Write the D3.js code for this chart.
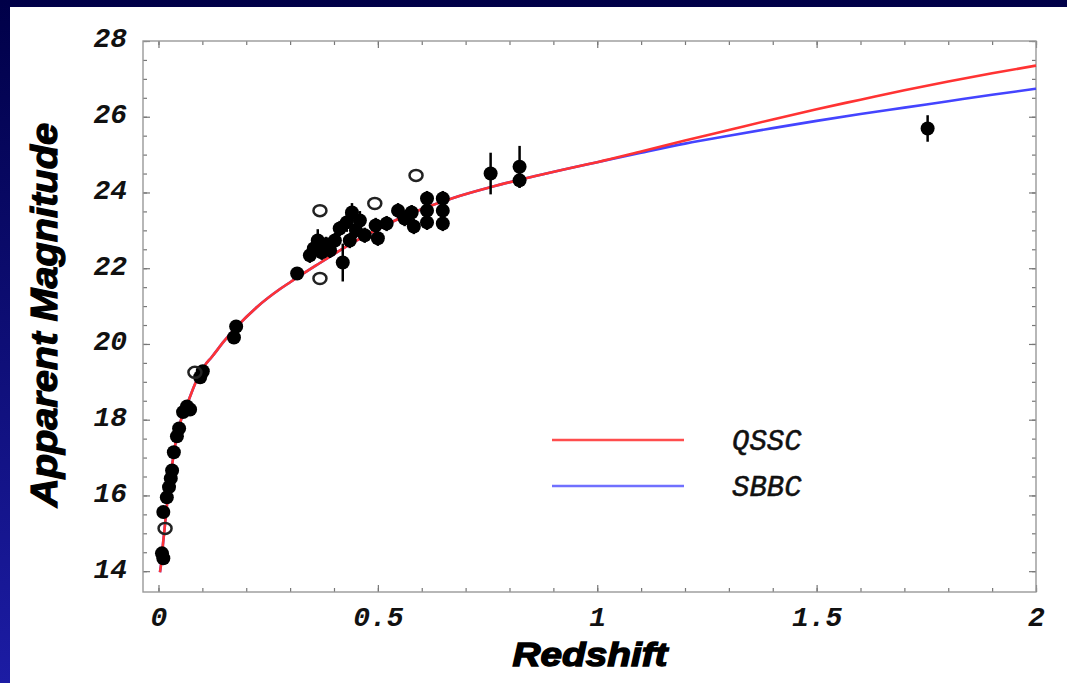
<!DOCTYPE html>
<html>
<head>
<meta charset="utf-8">
<title>Apparent Magnitude vs Redshift</title>
<script src="https://d3js.org/d3.v7.min.js"></script>
<style>
  html, body { margin: 0; padding: 0; }
  body { width: 1067px; height: 683px; overflow: hidden; }
  .tick text { font-family: "Liberation Mono", monospace; font-style: italic; font-weight: bold; font-size: 28px; fill: #111; }
  .tick line { stroke: #777; stroke-width: 1.2; }
  .domain { display: none; }
</style>
</head>
<body>
<div id="chart"></div>
<script>
// model curves
var zCurve = [0.0034, 0.007, 0.010, 0.014, 0.018, 0.024, 0.031, 0.040, 0.051, 0.067, 0.085, 0.106, 0.121,
              0.150, 0.178, 0.224, 0.277, 0.300, 0.360, 0.450, 0.550, 0.670, 0.760, 0.854, 0.960, 1.000,
              1.100, 1.200, 1.300, 1.400, 1.500, 1.600, 1.700, 1.800, 1.900, 2.000];
var mQSSC = [13.97, 14.29, 14.69, 15.13, 15.61, 16.19, 16.80, 17.46, 17.98, 18.46, 18.99, 19.44, 19.65,
             20.08, 20.45, 20.97, 21.45, 21.63, 22.08, 22.72, 23.32, 23.85, 24.15, 24.42, 24.70, 24.80,
             25.08, 25.37, 25.65, 25.93, 26.20, 26.45, 26.70, 26.93, 27.15, 27.35];
var mSBBC = [13.97, 14.29, 14.69, 15.13, 15.61, 16.19, 16.80, 17.46, 17.98, 18.46, 18.99, 19.44, 19.65,
             20.08, 20.45, 20.97, 21.45, 21.63, 22.08, 22.72, 23.32, 23.85, 24.15, 24.42, 24.70, 24.80,
             25.05, 25.29, 25.50, 25.70, 25.89, 26.07, 26.24, 26.41, 26.58, 26.74];

// supernovae, filled points with error bars
var zObs = [0.008, 0.011, 0.011, 0.019, 0.024, 0.028, 0.031, 0.035, 0.042, 0.047, 0.056, 0.065, 0.072,
            0.095, 0.101, 0.177, 0.172, 0.316, 0.345, 0.354, 0.363, 0.372, 0.382, 0.391, 0.402, 0.420,
            0.413, 0.429, 0.441, 0.450, 0.436, 0.459, 0.470, 0.495, 0.500, 0.520, 0.546, 0.561, 0.577,
            0.582, 0.612, 0.612, 0.612, 0.648, 0.648, 0.648, 0.757, 0.823, 0.823, 1.753];
var mObs = [14.47, 14.34, 15.56, 15.95, 16.22, 16.45, 16.66, 17.14, 17.56, 17.77, 18.20, 18.35, 18.27,
            19.12, 19.28, 20.46, 20.17, 21.86, 22.34, 22.52, 22.73, 22.42, 22.63, 22.47, 22.73, 22.15,
            23.05, 23.21, 23.47, 23.00, 22.73, 23.26, 22.87, 23.13, 22.79, 23.18, 23.52, 23.31, 23.47,
            23.10, 23.84, 23.52, 23.21, 23.84, 23.52, 23.18, 24.50, 24.68, 24.32, 25.69];
var eObs = [0.10, 0.10, 0.10, 0.10, 0.10, 0.10, 0.10, 0.10, 0.10, 0.10, 0.10, 0.10, 0.10,
            0.10, 0.10, 0.10, 0.10, 0.15, 0.20, 0.20, 0.30, 0.20, 0.20, 0.20, 0.20, 0.50,
            0.20, 0.25, 0.25, 0.20, 0.20, 0.25, 0.20, 0.20, 0.20, 0.20, 0.20, 0.20, 0.20,
            0.20, 0.20, 0.20, 0.20, 0.20, 0.20, 0.20, 0.55, 0.55, 0.20, 0.35];

// open circles
var zOpen = [0.015, 0.083, 0.368, 0.368, 0.493, 0.587];
var mOpen = [15.13, 19.25, 23.52, 21.73, 23.71, 24.45];

var xTickLabels = [0, 0.5, 1, 1.5, 2];
var yTickLabels = [14, 16, 18, 20, 22, 24, 26, 28];
var seriesNames = ["QSSC", "SBBC"];
var seriesColors = ["#ff3333", "#4444ff"];

var W = 1067, H = 683;
var frame = {left: 143, right: 1036, top: 41, bottom: 592};

var svg = d3.select("#chart").append("svg")
    .attr("width", W).attr("height", H);

var defs = svg.append("defs");
var grad = defs.append("linearGradient").attr("id", "bg")
    .attr("x1", 0).attr("y1", 0).attr("x2", 0).attr("y2", 1);
grad.append("stop").attr("offset", "0%").attr("stop-color", "#000048");
grad.append("stop").attr("offset", "100%").attr("stop-color", "#1c1ca4");

svg.append("rect").attr("width", W).attr("height", H).attr("fill", "url(#bg)");
svg.append("rect").attr("x", 10).attr("y", 7).attr("width", W - 10).attr("height", H - 7).attr("fill", "#fff");

var x = d3.scaleLinear().domain([-0.0353, 2]).range([frame.left, frame.right]);
var y = d3.scaleLinear().domain([13.45, 28]).range([frame.bottom, frame.top]);

var xMinor = d3.range(0, 21).map(function(i) { return i / 10; });
var yMinor = d3.range(0, 29).map(function(i) { return 14 + i / 2; });

// minor ticks on all four sides
svg.append("g").attr("transform", "translate(0," + frame.bottom + ")")
  .call(d3.axisBottom(x).tickValues(xMinor).tickSize(-4).tickFormat(""));
svg.append("g").attr("transform", "translate(0," + frame.top + ")")
  .call(d3.axisTop(x).tickValues(xMinor).tickSize(-4).tickFormat(""));
svg.append("g").attr("transform", "translate(" + frame.left + ",0)")
  .call(d3.axisLeft(y).tickValues(yMinor).tickSize(-4).tickFormat(""));
svg.append("g").attr("transform", "translate(" + frame.right + ",0)")
  .call(d3.axisRight(y).tickValues(yMinor).tickSize(-4).tickFormat(""));

// major ticks with labels
svg.append("g").attr("transform", "translate(0," + frame.bottom + ")")
  .call(d3.axisBottom(x).tickValues(xTickLabels).tickSize(-7).tickPadding(14).tickFormat(d3.format("")));
svg.append("g").attr("transform", "translate(" + frame.left + ",0)")
  .call(d3.axisLeft(y).tickValues(yTickLabels).tickSize(-7).tickPadding(16).tickFormat(d3.format("")))
  .selectAll("text").attr("y", -3);
svg.append("g").attr("transform", "translate(0," + frame.top + ")")
  .call(d3.axisTop(x).tickValues(xTickLabels).tickSize(-7).tickFormat(""));
svg.append("g").attr("transform", "translate(" + frame.right + ",0)")
  .call(d3.axisRight(y).tickValues(yTickLabels).tickSize(-7).tickFormat(""));

// frame
svg.append("rect")
  .attr("x", frame.left).attr("y", frame.top)
  .attr("width", frame.right - frame.left).attr("height", frame.bottom - frame.top)
  .attr("fill", "none").attr("stroke", "#999").attr("stroke-width", 1.4);

// curves
var line = d3.line()
  .x(function(d) { return x(d[0]); })
  .y(function(d) { return y(d[1]); })
  .curve(d3.curveMonotoneX);

[mSBBC, mQSSC].forEach(function(m, k) {
  var col = k === 0 ? seriesColors[1] : seriesColors[0];
  svg.append("path")
    .datum(zCurve.map(function(z, i) { return [z, m[i]]; }))
    .attr("d", line)
    .attr("fill", "none")
    .attr("stroke", col)
    .attr("stroke-width", 2.6);
});

// error bars + filled points
var obs = zObs.map(function(z, i) { return {z: z, m: mObs[i], e: eObs[i]}; });

svg.selectAll(".err")
  .data(obs).enter().append("line")
  .attr("class", "err")
  .attr("x1", function(d) { return x(d.z); })
  .attr("x2", function(d) { return x(d.z); })
  .attr("y1", function(d) { return y(d.m - d.e); })
  .attr("y2", function(d) { return y(d.m + d.e); })
  .attr("stroke", "#000").attr("stroke-width", 2.5);

svg.selectAll(".pt")
  .data(obs).enter().append("circle")
  .attr("class", "pt")
  .attr("cx", function(d) { return x(d.z); })
  .attr("cy", function(d) { return y(d.m); })
  .attr("r", 7)
  .attr("fill", "#000");

svg.selectAll(".open")
  .data(zOpen).enter().append("ellipse")
  .attr("class", "open")
  .attr("cx", function(d) { return x(d); })
  .attr("cy", function(d, i) { return y(mOpen[i]); })
  .attr("rx", 6.5).attr("ry", 5.5)
  .attr("fill", "none")
  .attr("stroke", "#222")
  .attr("stroke-width", 2.5);

// legend
var leg = svg.append("g");
seriesNames.forEach(function(name, i) {
  var ly = 440 + i * 46;
  leg.append("line")
    .attr("x1", 552).attr("x2", 684).attr("y1", ly).attr("y2", ly)
    .attr("stroke", i === 0 ? "#ff4d4d" : "#7070ff").attr("stroke-width", 2.6);
  leg.append("text")
    .attr("x", 732).attr("y", ly).attr("dy", "0.35em")
    .attr("font-family", "Liberation Mono, monospace")
    .attr("font-style", "italic")
    .attr("font-size", 29)
    .attr("fill", "#111")
    .attr("stroke", "#111").attr("stroke-width", 0.5)
    .text(name);
});

// axis titles
svg.append("text")
  .attr("x", 590).attr("y", 666)
  .attr("text-anchor", "middle")
  .attr("font-family", "Liberation Sans, Arial, sans-serif")
  .attr("font-weight", "bold").attr("font-style", "italic")
  .attr("font-size", 34)
  .attr("stroke", "#000").attr("stroke-width", 1.4)
  .attr("textLength", 155).attr("lengthAdjust", "spacingAndGlyphs")
  .text("Redshift");

svg.append("text")
  .attr("transform", "translate(57,315) rotate(-90)")
  .attr("text-anchor", "middle")
  .attr("font-family", "Liberation Sans, Arial, sans-serif")
  .attr("font-weight", "bold").attr("font-style", "italic")
  .attr("font-size", 36)
  .attr("stroke", "#000").attr("stroke-width", 1.2)
  .attr("textLength", 384).attr("lengthAdjust", "spacingAndGlyphs")
  .text("Apparent Magnitude");
</script>
</body>
</html>
